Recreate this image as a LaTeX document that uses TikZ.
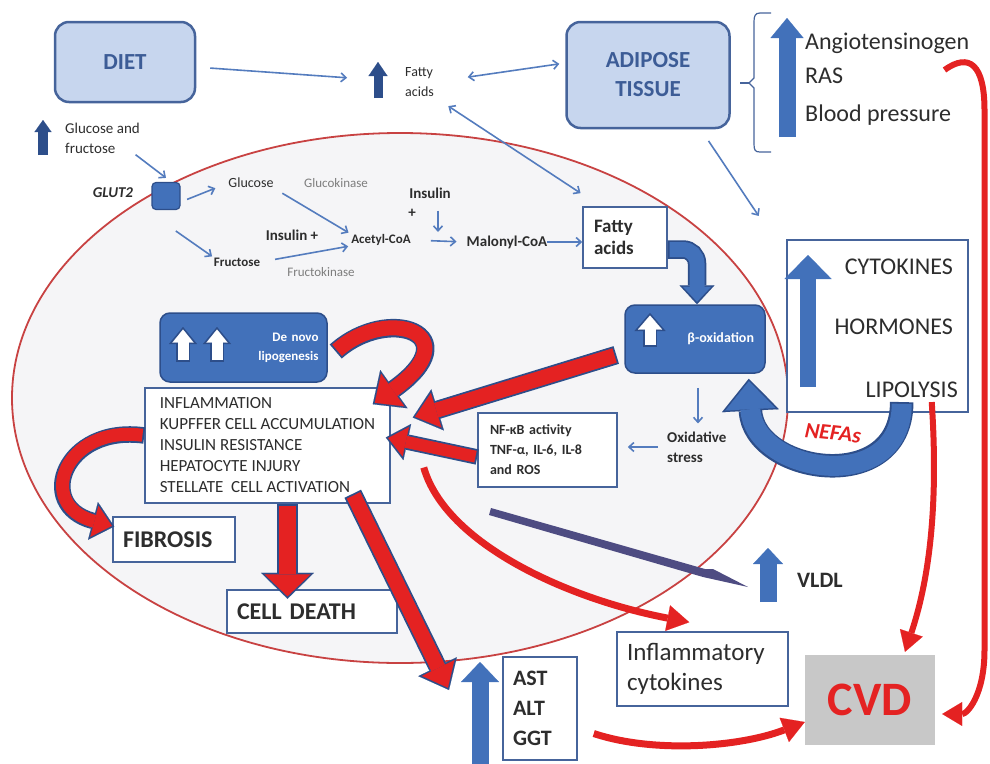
\documentclass[tikz,border=0pt]{standalone}
\usepackage{fontspec}
\setmainfont{Carlito}
\usetikzlibrary{arrows.meta,positioning}

\definecolor{cellfill}{RGB}{245,245,247}
\definecolor{cellline}{RGB}{200,66,66}
\definecolor{paleblue}{RGB}{199,214,238}
\definecolor{frameblue}{RGB}{70,100,155}
\definecolor{titleblue}{RGB}{60,92,150}
\definecolor{midblue}{RGB}{66,113,186}
\definecolor{deepblue}{RGB}{45,78,138}
\definecolor{linkblue}{RGB}{84,124,190}
\definecolor{hotred}{RGB}{228,34,34}
\definecolor{textgrey}{RGB}{45,45,45}
\definecolor{softgrey}{RGB}{125,125,125}
\definecolor{cvdgrey}{RGB}{200,200,200}
\definecolor{spike}{RGB}{78,76,130}

\newcommand{\fsz}[2]{\fontsize{#1}{#2}\selectfont}

% thick arrow with a dark rim
\newcommand{\blockarrow}[6]{%
  \pgfmathsetlengthmacro\rimshaft{#3+3.5pt}%
  \pgfmathsetlengthmacro\rimwide{#4+7pt}%
  \pgfmathsetlengthmacro\rimlong{#5+4pt}%
  \draw[#2, line width=\rimshaft, -{Triangle[width=\rimwide,length=\rimlong,line width=0.1pt]}] #6;
  \draw[#1, line width=#3, -{Triangle[width=#4,length=#5,line width=0.1pt]}, shorten >=2.5pt, shorten <=1.8pt] #6;}

\tikzset{
  lbl/.style={inner sep=0pt, text=textgrey},
  conn/.style={linkblue, line width=1.6pt, ->, >={Straight Barb[length=5pt,width=9pt]}},
  twoway/.style={conn, <->},
  palebox/.style={draw=frameblue, fill=paleblue, line width=2.5pt, rounded corners=14pt, text=titleblue, font=\bfseries\fsz{23}{29}, align=center},
  bluebox/.style={draw=deepblue, fill=midblue, line width=1.5pt, rounded corners=10pt, inner sep=0pt, text=white},
  thinbox/.style={draw=frameblue, fill=white, line width=1.5pt, inner sep=0pt, text=textgrey},
  rise/.style n args={3}{midblue, line width=#1, -{Triangle[width=#2,length=#3,line width=0.1pt]}},
  redthin/.style n args={3}{hotred, line width=#1, -{Triangle[width=#2,length=#3,line width=0.1pt]}}
}

\begin{document}
\begin{tikzpicture}[x=1pt, y=-1pt]
\useasboundingbox (0,0) rectangle (990,763);

% the liver cell
\draw[cellline, fill=cellfill, line width=1.8pt] (400,398) ellipse [x radius=388pt, y radius=265pt];

% outside the cell
\node[palebox, minimum width=140pt, minimum height=80pt] (diet) at (125,62) {DIET};
\node[palebox, minimum width=163pt, minimum height=106pt] (adipose) at (648,75) {ADIPOSE\\TISSUE};
\coordinate (fatup) at (378,80);
\draw[rise={9pt}{19pt}{14pt}, deepblue] ([shift={(0,18)}]fatup) -- ([shift={(0,-18)}]fatup);
\node[lbl, anchor=west, align=left, font=\fsz{14}{20}] (fattop) at (405,82) {Fatty\\acids};

\draw[frameblue, line width=1.2pt] (771,13) -- (760,13) .. controls (755,13) and (754,16) .. (754,22) -- (754,78) -- (749,83) -- (754,88) -- (754,144) .. controls (754,150) and (755,152) .. (760,152) -- (771,152);
\draw[frameblue, line width=1.2pt] (740,83) -- (749,83);
\draw[rise={17pt}{33pt}{20pt}] (787,137) -- (787,18);
\node[lbl, anchor=west, font=\fsz{24}{24}] (angio) at (805,43) {Angiotensinogen};
\node[lbl, anchor=west, font=\fsz{24}{24}] (ras) at (805,76) {RAS};
\node[lbl, anchor=west, font=\fsz{24}{24}] (bp) at (805,115) {Blood pressure};

\draw[rise={10pt}{17pt}{12pt}, deepblue] (43,155) -- (43,120);
\node[lbl, anchor=west, align=left, font=\fsz{15}{20}] (sugars) at (65,138) {Glucose and\\fructose};

\node[lbl, font=\bfseries\itshape\fsz{15}{15}] (glutname) at (113,193) {GLUT2};
\node[draw=deepblue, fill=midblue, line width=1.2pt, rounded corners=4pt, minimum width=28pt, minimum height=27pt, inner sep=0pt] (glut) at (166,196) {};

% metabolism
\node[lbl, font=\fsz{14}{14}] (glucose) at (251,183) {Glucose};
\node[lbl, text=softgrey, font=\fsz{13}{13}] (gk) at (336,183) {Glucokinase};
\node[lbl, font=\bfseries\fsz{15}{15}] (ins1) at (292,235) {Insulin +};
\node[lbl, font=\bfseries\fsz{13}{13}] (acetyl) at (381,240) {Acetyl-CoA};
\node[lbl, font=\bfseries\fsz{13}{13}] (fructose) at (237,262) {Fructose};
\node[lbl, text=softgrey, font=\fsz{13}{13}] (fk) at (321,272) {Fructokinase};
\node[lbl, font=\bfseries\fsz{15}{15}] (ins2) at (430,193) {Insulin};
\node[lbl, font=\bfseries\fsz{15}{15}] (plus) at (412,213) {+};
\node[lbl, font=\bfseries\fsz{15}{15}] (malonyl) at (507,242) {Malonyl-CoA};
\node[thinbox, minimum width=84pt, minimum height=61pt, text width=62pt, align=left, font=\bfseries\fsz{19}{22}] (fatbox) at (625,237.5) {Fatty\\acids};

\node[bluebox, minimum width=167pt, minimum height=69pt, text width=150pt, align=right, font=\bfseries\fsz{13}{19}] (denovo) at (243.5,347.5) {De novo\\lipogenesis};
\node[bluebox, minimum width=140pt, minimum height=68pt, text width=118pt, align=right, font=\bfseries\fsz{14}{14}] (betabox) at (695,339) {β-oxidation};

\node[thinbox, minimum width=245pt, minimum height=115pt, align=left, font=\fsz{17}{21}] (infl) at (267.5,445.5) {INFLAMMATION\\KUPFFER CELL ACCUMULATION\\INSULIN RESISTANCE\\HEPATOCYTE INJURY\\STELLATE\ \ CELL ACTIVATION};
\node[thinbox, minimum width=122pt, minimum height=45pt, text width=102pt, align=left, font=\bfseries\fsz{24}{24}] (fibrosis) at (174,539.5) {FIBROSIS};
\node[thinbox, minimum width=170pt, minimum height=43pt, text width=150pt, align=left, font=\bfseries\fsz{24}{24}] (death) at (312,611.5) {CELL DEATH};
\node[thinbox, minimum width=139pt, minimum height=74pt, text width=115pt, align=left, font=\bfseries\fsz{14}{20}] (nfbox) at (547.5,450) {NF-κB activity\\TNF-α, IL-6, IL-8\\and ROS};
\node[lbl, anchor=west, align=left, font=\bfseries\fsz{15}{20}] (oxid) at (667,447) {Oxidative\\stress};

% right side
\node[thinbox, minimum width=181pt, minimum height=172pt] (cytobox) at (877.5,326) {};
\draw[rise={16pt}{47pt}{24pt}] (808,387) -- (808,255);
\node[lbl, anchor=east, font=\fsz{24}{24}] (cyto) at (953,267) {CYTOKINES};
\node[lbl, anchor=east, font=\fsz{24}{24}] (horm) at (953,327) {HORMONES};
\node[lbl, anchor=east, font=\fsz{24}{24}] (lipo) at (958,390) {LIPOLYSIS};
\node[lbl, text=hotred, font=\bfseries\itshape\fsz{22}{22}, rotate=-6] (nefas) at (833,433) {NEFAs};

\draw[rise={17pt}{30pt}{16pt}] (768,602) -- (768,548);
\node[lbl, anchor=west, font=\bfseries\fsz{22}{22}] (vldl) at (797,580) {VLDL};
\node[thinbox, minimum width=171pt, minimum height=74pt, text width=151pt, align=left, font=\fsz{25}{30}] (infcyto) at (702.5,669) {Inflammatory\\cytokines};
\node[thinbox, minimum width=74pt, minimum height=103pt, text width=54pt, align=left, font=\bfseries\fsz{22}{30}] (astbox) at (540,708.5) {AST\\ALT\\GGT};
\coordinate (astup) at (480,662);
\draw[rise={17pt}{38pt}{20pt}] (480,770) -- (astup);
\node[fill=cvdgrey, minimum width=130pt, minimum height=90pt, inner sep=0pt, text=hotred, font=\bfseries\fsz{48}{48}] (cvd) at (870,700) {CVD};

% icons in the blue boxes
\blockarrow{white}{deepblue}{11pt}{21pt}{13pt}{(183,362) -- (183,327)}
\blockarrow{white}{deepblue}{11pt}{21pt}{13pt}{(217,362) -- (217,327)}
\blockarrow{white}{deepblue}{11pt}{24pt}{14pt}{(650,347) -- (650,313)}

% thin links
\draw[conn, shorten <=14pt, shorten >=31pt] (diet) -- (fatup);
\draw[twoway, shorten <=34pt, shorten >=6pt] (fattop.east) -- ([shift={(0,-12)}]adipose.west);
\draw[twoway, shorten <=17pt, shorten >=2pt] (fattop.south east) -- ([shift={(0,-12)}]fatbox.north west);
\draw[conn, shorten <=14pt, shorten >=28pt] ([shift={(-30,0)}]adipose.south east) -- ([shift={(-12,0)}]cytobox.north west);
\draw[conn, shorten <=2pt] ([shift={(-6,0)}]sugars.south east) -- ([shift={(0,-4)}]glut.north);
\draw[conn, shorten <=7pt, shorten >=14pt] ([shift={(0,6)}]glut.east) -- (glucose.west);
\draw[conn, shorten <=12pt, shorten >=2pt] ([shift={(0,14)}]glut.south) -- (fructose.north west);
\draw[conn, shorten <=10pt, shorten >=3pt] (glucose.south east) -- (acetyl.north west);
\draw[conn, shorten <=15pt, shorten >=3pt] (fructose.east) -- (acetyl.south west);
\coordinate (insjoin) at (438,240);
\draw[conn, shorten <=12pt, shorten >=8pt] (ins2.south -| insjoin) -- (insjoin);
\draw[conn, shorten <=20pt, shorten >=10pt] (acetyl.east) -- (malonyl.west);
\draw[conn] (malonyl.east) -- (malonyl.east -| fatbox.west);
\draw[conn, shorten <=14pt, shorten >=8pt] ([shift={(3,0)}]betabox.south) -- ([shift={(3,0)}]betabox.south |- oxid.north);
\draw[conn, shorten <=9pt, shorten >=10pt] (oxid.west) -- (oxid.west -| nfbox.east);

% block arrows
\blockarrow{midblue}{deepblue}{15pt}{28pt}{15pt}{[rounded corners=14pt] ([shift={(0,12)}]fatbox.east) -| ([shift={(2,0)}]betabox.north)}
\blockarrow{midblue}{deepblue}{20pt}{50pt}{28pt}{([shift={(-10,4)}]lipo.south) .. controls +(0,95) and +(5,95) .. ([shift={(-17,5)}]betabox.south east)}
\blockarrow{hotred}{deepblue}{15pt}{40pt}{22pt}{([shift={(8,4)}]denovo.east) .. controls +(53,-47) and +(98,-70) .. ([shift={(-18,17)}]infl.north east)}
\blockarrow{hotred}{deepblue}{15pt}{36pt}{22pt}{([shift={(-8,16)}]betabox.west) -- ([shift={(22,-28)}]infl.east)}
\blockarrow{hotred}{deepblue}{12pt}{30pt}{18pt}{([shift={(0,7)}]nfbox.west) -- ([shift={(-5,-8)}]infl.east)}
\blockarrow{hotred}{deepblue}{13pt}{32pt}{18pt}{([shift={(0,-10)}]infl.west) .. controls +(-80,-11) and +(-80,-21) .. ([shift={(2,-13)}]fibrosis.west)}
\blockarrow{hotred}{deepblue}{17pt}{46pt}{22pt}{([shift={(20,0)}]infl.south) -- ++(0,95)}
\blockarrow{hotred}{deepblue}{15pt}{36pt}{22pt}{([shift={(-38,-10)}]infl.south east) -- ([shift={(-31,28)}]astup)}

% VLDL pointer
\fill[spike] (491,508) -- (705,569) -- (713,569) -- (748,587) -- (703,577) -- (489,515) -- cycle;

% red links to CVD
\draw[redthin={7pt}{26pt}{22pt}] ([shift={(33,22)}]infl.east) .. controls +(22,77) and +(-120,-23) .. ([shift={(73,-9)}]infcyto.north west);
\draw[redthin={7pt}{26pt}{22pt}] ([shift={(16,25)}]astbox.east) .. controls +(60,20) and +(-65,25) .. ([shift={(0,22)}]cvd.west);
\draw[redthin={6pt}{24pt}{20pt}] ([shift={(-25,27)}]angio.east) .. controls +(25,-18) and +(0,-45) .. ++(40,40) -- ++(0,540) .. controls +(0,45) and +(25,0) .. ([shift={(7,14)}]cvd.east);
\draw[redthin={6pt}{24pt}{20pt}] ([shift={(20,4)}]lipo.south) .. controls +(8,120) and +(20,-60) .. ([shift={(35,-3)}]cvd.north);
\end{tikzpicture}
\end{document}
